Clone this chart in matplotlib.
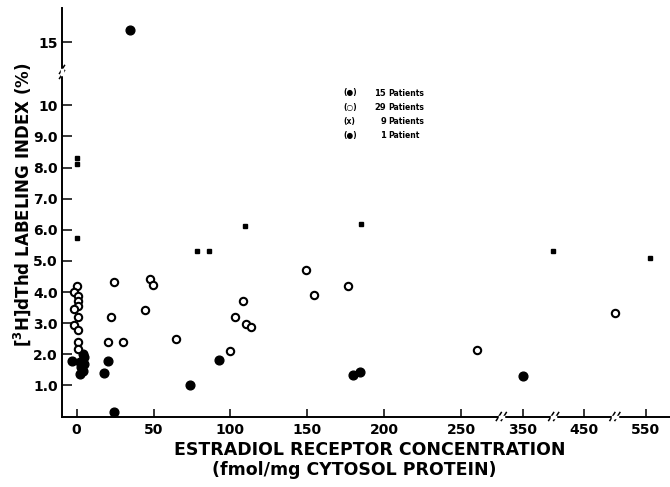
import matplotlib
matplotlib.use("Agg")
import matplotlib.pyplot as plt
from matplotlib.lines import Line2D
import numpy as np

# filled circles (15 patients)
filled_x = [-3, 4, 5, 2, 5, 3, 4, 2, 20.5, 17.5, 24, 92.6, 73.8, 180, 184, 350]
filled_y = [1.79, 2.0, 1.9, 1.75, 1.68, 1.6, 1.45, 1.36, 1.79, 1.41, 0.13, 1.81, 1.0, 1.33, 1.44, 1.31]
# open circles (29 patients)
open_x = [0, -2, 1, 1, 1, -2, 1, -2, 1, 1, 1,
          24.2, 22.3, 20.1, 30.3,
          47.6, 49.8, 44.2, 64.5, 100, 108.2, 102.8, 110.4, 113.4, 149.4, 154.3,
          176.6, 260.4, 500]
open_y = [4.2, 4.0, 3.87, 3.72, 3.56, 3.47, 3.2, 2.94, 2.78, 2.38, 2.17,
          4.31, 3.2, 2.4, 2.38,
          4.41, 4.22, 3.42, 2.48, 2.11, 3.7, 3.2, 2.97, 2.88, 4.72, 3.9,
          4.21, 2.13, 3.32]
# x marks (9 patients)
cross_x = [0, 0, 0, 78, 86, 109.5, 184.6, 399, 557]
cross_y = [8.1, 8.3, 5.74, 5.33, 5.33, 6.12, 6.2, 5.33, 5.09]
# single patient
single_x = [35]
single_y = [15.4]

x_ticks = [0, 50, 100, 150, 200, 250, 350, 450, 550]
y_ticks = [1, 2, 3, 4, 5, 6, 7, 8, 9, 10, 15]
y_labels = ["1.0", "2.0", "3.0", "4.0", "5.0", "6.0", "7.0", "8.0", "9.0", "10", "15"]
x_breaks = [290, 400, 500]
y_break = 12.5

legend_sym = ["(\u25cf)", "(\u25cb)", "(x)", "(\u25cf)"]
legend_num = ["15", "29", "9", "1"]
legend_word = ["Patients", "Patients", "Patients", "Patient"]

# broken axes as piecewise linear scales
xd = [-100, 276, 315, 1000]
xp = [-100 * 1.54, 276 * 1.54, 276 * 1.54 + 0.5, 276 * 1.54 + 0.5 + (1000 - 315) * 0.613]
yd = [-10, 11.07, 14.05, 100]
yp = [-10, 11.07, 11.08, 11.08 + (100 - 14.05)]


def x_fwd(v):
    return np.interp(v, xd, xp)


def x_inv(v):
    return np.interp(v, xp, xd)


def y_fwd(v):
    return np.interp(v, yd, yp)


def y_inv(v):
    return np.interp(v, yp, yd)


fig = plt.figure(figsize=(6.7, 4.87), dpi=100)
W, H = 670.0, 487.0
ax = fig.add_axes([62 / W, 1 - 416.5 / H, 608 / W, 408.5 / H])
ax.set_xscale("function", functions=(x_fwd, x_inv))
ax.set_yscale("function", functions=(y_fwd, y_inv))
ax.set_xlim(-9.5, 590)
ax.set_ylim(0, 16.1)

ax.plot(filled_x, filled_y, "o", color="black", markersize=6.3, ls="none")
ax.plot(open_x, open_y, "o", mfc="white", mec="black", mew=1.5, markersize=5.3, ls="none")
ax.plot(cross_x, cross_y, "s", color="black", markersize=2.6, ls="none")
ax.plot(single_x, single_y, "o", color="black", markersize=6.3, ls="none")

for s in ["top", "right"]:
    ax.spines[s].set_visible(False)
for s in ["left", "bottom"]:
    ax.spines[s].set_linewidth(1.4)

ax.set_xticks(x_ticks)
ax.set_xticklabels([str(t) for t in x_ticks], fontsize=10, fontweight="bold")
ax.set_yticks(y_ticks)
ax.set_yticklabels(y_labels, fontsize=10, fontweight="bold")
ax.tick_params(axis="x", direction="in", length=6, width=1.1, pad=5)
ax.tick_params(axis="y", direction="in", length=7, width=1.1, pad=3)
ax.minorticks_off()


# slanted "//" break marks, drawn in pixel units
def break_mark(cx, cy, horizontal):
    for off in [-2.5, 2.5]:
        if horizontal:
            x0, y0 = cx + off, cy
        else:
            x0, y0 = cx, cy + off
        fig.add_artist(Line2D([(x0 - 2.5) / W, (x0 + 2.5) / W], [(y0 - 4) / H, (y0 + 4) / H],
                              transform=fig.transFigure, color="black", lw=1.1))
    if horizontal:
        fig.add_artist(Line2D([(cx - 1.8) / W, (cx + 1.8) / W], [cy / H, cy / H],
                              transform=fig.transFigure, color="white", lw=2.5))
    else:
        fig.add_artist(Line2D([cx / W, cx / W], [(cy - 1.8) / H, (cy + 1.8) / H],
                              transform=fig.transFigure, color="white", lw=2.5))


for bx in x_breaks:
    px, py = ax.transData.transform((bx, 0))
    break_mark(px, py, True)
px, py = ax.transData.transform((0, y_break))
break_mark(ax.transAxes.transform((0, 0))[0], py, False)

# legend as text
for i in range(4):
    yy = 1 - (93 + 14.3 * i) / H
    fig.text(343 / W, yy, legend_sym[i], fontsize=5.5, fontweight="bold", va="center", ha="left")
    fig.text(386 / W, yy, legend_num[i], fontsize=6, fontweight="bold", va="center", ha="right")
    fig.text(388 / W, yy, legend_word[i], fontsize=5.5, fontweight="bold", va="center", ha="left")

fig.text(370 / W, 1 - 450 / H, "ESTRADIOL RECEPTOR CONCENTRATION", fontsize=12.5,
         fontweight="bold", ha="center", va="center")
fig.text(354 / W, 1 - 470 / H, "(fmol/mg CYTOSOL PROTEIN)", fontsize=12.5,
         fontweight="bold", ha="center", va="center")
fig.text(22 / W, 1 - 205 / H, "[$^{\\mathbf{3}}$H]dThd LABELING INDEX (%)", fontsize=12,
         fontweight="bold", rotation=90, ha="center", va="center")

fig.savefig("out.png", dpi=100)
